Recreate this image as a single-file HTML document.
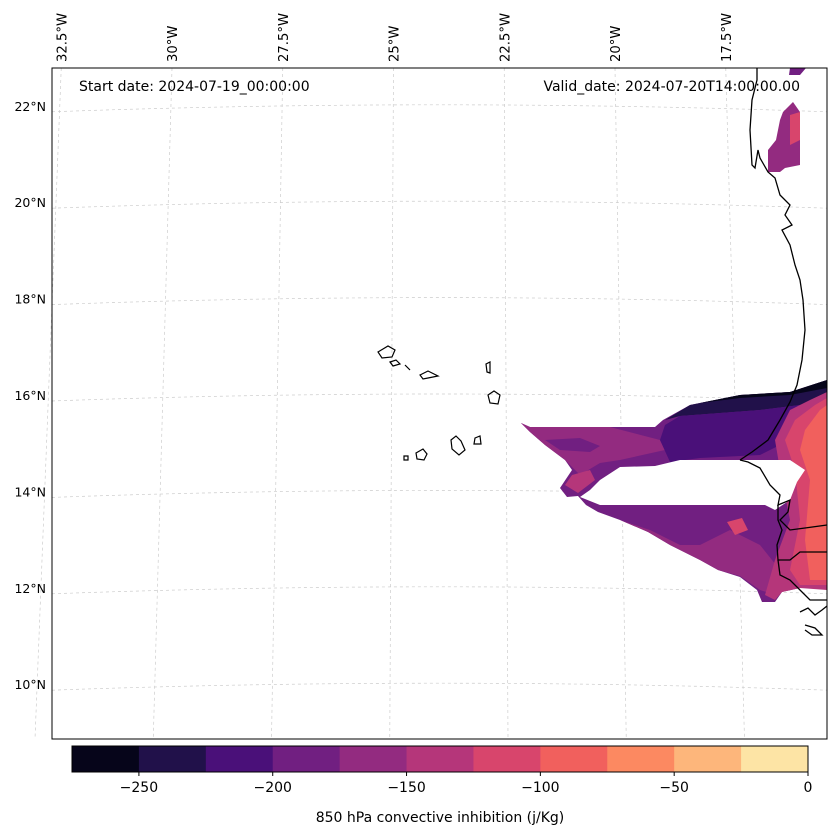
<!DOCTYPE html>
<html><head><meta charset="utf-8">
<style>
body{margin:0;background:#fff;font-family:"DejaVu Sans","Liberation Sans",sans-serif;}
svg text{font-family:"DejaVu Sans","Liberation Sans",sans-serif;font-size:12.5px;fill:#000;}
svg text.big{font-size:14px;}
svg text.lon{font-size:13.2px;}
</style></head>
<body>
<svg id="chart" width="837" height="836" xmlns="http://www.w3.org/2000/svg">
<rect width="837" height="836" fill="#fff"/>
<g id="grid"></g>
<g id="fields">
  <polygon fill="#711f81" points="521,423 530,427 655,427 663,420 690,405 740,395 790,392 827,380 827,585 800,588 782,592 775,602 762,602 757,590 740,577 718,570 700,560 670,545 648,532 620,520 598,512 586,505 578,496 567,497 560,488 572,470 565,460 545,445 530,432"/>
  <polygon fill="#932b80" points="521,423 530,427 610,427 660,440 665,450 620,460 600,463 580,475 565,460 545,445 530,432"/>
  <polygon fill="#711f81" points="545,440 580,438 600,446 590,452 560,450"/>
  <polygon fill="#21114a" points="665,420 690,405 740,395 790,392 827,380 827,395 800,405 760,410 720,413 680,416"/>
  <polygon fill="#06051a" points="700,403 740,395 790,392 827,380 827,388 790,395 740,398"/>
  <polygon fill="#4a1079" points="680,416 720,413 760,410 800,405 810,420 790,440 760,455 700,458 670,462 660,440 665,425"/>
  <polygon fill="#b5367a" points="565,485 572,475 590,470 595,480 578,493"/>
  <polygon fill="#932b80" points="620,520 650,530 680,545 700,545 730,530 760,545 780,570 775,595 760,590 740,576 718,570 700,560 670,545 648,532"/>
  <polygon fill="#d8456c" points="727,522 742,518 748,530 735,535"/>
  <polygon fill="#b5367a" points="790,410 810,400 827,392 827,590 800,588 782,592 775,600 765,595 775,560 790,520 780,470 775,440"/>
  <polygon fill="#d8456c" points="795,420 815,405 827,398 827,585 800,585 790,570 800,520 795,470 785,440"/>
  <polygon fill="#f1605d" points="805,430 820,410 827,405 827,580 810,580 805,540 810,480 800,450"/>
  <polygon fill="#fff" points="580,497 590,490 600,480 620,467 655,466 680,460 790,460 805,470 797,482 790,500 775,510 765,505 600,505"/>
  <polygon fill="#932b80" points="783,112 793,102 800,112 800,165 785,168 780,172 768,172 768,150 776,140 780,120"/>
  <polygon fill="#d8456c" points="790,115 800,112 800,140 790,145"/>
  <polygon fill="#711f81" points="790,68 806,68 800,75 789,75"/>
</g>
<g id="coast" fill="none" stroke="#000" stroke-width="1.3">
  <polyline points="757,68 757,80 752,100 750,130 752,165 755,168 758,150 760,158 768,172 775,178 780,195 790,205 785,215 792,225 782,230 790,245 795,265 800,280 803,300 805,330 802,360 797,385 790,402 780,420 768,440 752,452 740,460"/>
  <polyline points="740,460 748,462 760,468 770,485 780,495 778,505 790,500 788,512 780,520 790,530 805,528 827,525"/>
  <polyline points="778,505 778,520 782,530 777,545 778,560 790,560 800,552 827,552"/>
  <polyline points="778,560 780,575 790,580 800,590 810,600 827,600"/>
  <polyline points="800,612 808,608 815,615 822,610 827,606"/>
  <polyline points="805,625 815,628 822,635 812,635 805,630"/>
</g>
<g id="islands" fill="none" stroke="#000" stroke-width="1.2">
  <polygon points="378,352 388,346 395,350 392,357 382,358"/>
  <polygon points="390,362 396,360 400,364 393,366"/>
  <polyline points="405,365 410,370"/>
  <polygon points="420,375 428,371 438,376 428,378 423,379"/>
  <polygon points="486,364 490,362 490,373 487,372"/>
  <polygon points="488,395 494,391 500,395 498,404 490,403"/>
  <polygon points="451,440 456,436 461,441 465,450 459,455 452,449"/>
  <polygon points="475,438 480,436 481,444 474,444"/>
  <polygon points="416,453 423,449 427,454 424,460 417,459"/>
  <polygon points="404,456 408,456 408,460 404,460"/>
</g>
<rect x="52" y="68" width="775" height="671" fill="none" stroke="#000" stroke-width="1"/>
<text class="big" x="79" y="91">Start date: 2024-07-19_00:00:00</text>
<text class="big" x="800" y="91" text-anchor="end">Valid_date: 2024-07-20T14:00:00.00</text>
<g id="latlabels"></g>
<g id="lonlabels"></g>
<g id="cbar"></g>
<text class="big" x="440" y="822" text-anchor="middle">850 hPa convective inhibition (j/Kg)</text>
</svg>
<script>
const levels = [-275,-250,-225,-200,-175,-150,-125,-100,-75,-50,-25,0];
const levelColors = ['#06051a','#21114a','#4a1079','#711f81','#932b80','#b5367a','#d8456c','#f1605d','#fc8961','#fdb67b','#fde4a5'];
const cbarTicks = [-250,-200,-150,-100,-50,0];
const latTicks = [22,20,18,16,14,12,10];
const lonTicks = [-32.5,-30,-27.5,-25,-22.5,-20,-17.5];
const NS='http://www.w3.org/2000/svg';
function mk(t,a,p){const e=document.createElementNS(NS,t);for(const k in a)e.setAttribute(k,a[k]);p.appendChild(e);return e;}
const cx0=72,cx1=808;
const cScale=v=>cx0+(v-levels[0])/(levels[levels.length-1]-levels[0])*(cx1-cx0);
const cb=document.getElementById('cbar');
for(let i=0;i<levelColors.length;i++){
  const r=mk('rect',{x:cScale(levels[i]),y:746,width:cScale(levels[i+1])-cScale(levels[i])+0.5,height:26,fill:levelColors[i]},cb);
  
  
}
mk('rect',{x:cx0,y:746,width:cx1-cx0,height:26,fill:'none',stroke:'#000','stroke-width':1},cb);
cbarTicks.forEach(v=>{
  mk('line',{x1:cScale(v),x2:cScale(v),y1:772,y2:776,stroke:'#000'},cb);
  const t=mk('text',{x:cScale(v),y:792,'text-anchor':'middle','class':'big'},cb);
  t.textContent=(v<0?'\u2212'+(-v):v);
  
  
});
const latY=lat=>395-(lat-16)*48.2;
const lonXtop=lon=>172+(lon+30)*44.3;
const grid=document.getElementById('grid');
latTicks.forEach(lat=>{
  const y=latY(lat);
  mk('path',{d:`M52,${y+6} Q440,${y-8} 827,${y+6}`,fill:'none',stroke:'#ccc','stroke-width':0.7,'stroke-dasharray':'3,3'},grid);
  const t=mk('text',{x:46,y:y+5,'text-anchor':'end'},document.getElementById('latlabels'));
  t.textContent=lat+'°N';
  
  
});
lonTicks.forEach(lon=>{
  const x=lonXtop(lon);
  mk('line',{x1:x,y1:68,x2:x+(lon+23.75)*3.0,y2:739,stroke:'#ccc','stroke-width':0.7,'stroke-dasharray':'3,3'},grid);
  const t=mk('text',{x:0,y:0,transform:`translate(${x+5},62) rotate(-90)`,'class':'lon'},document.getElementById('lonlabels'));
  t.textContent=(-lon)+'°W';
  
  
});
</script>
</body></html>
